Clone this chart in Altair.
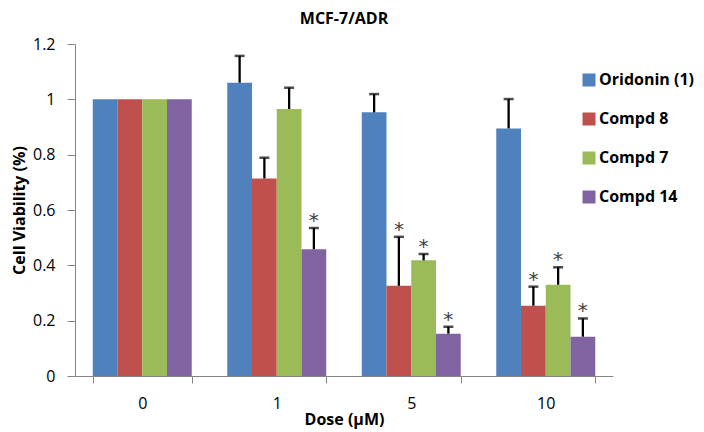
import altair as alt
import pandas as pd

# ---- data ----
doses = ["0", "1", "5", "10"]
series = ["Oridonin (1)", "Compd 8", "Compd 7", "Compd 14"]
colors = ["#4F81BD", "#C0504D", "#9BBB59", "#8064A2"]

oridonin = [1.0, 1.06, 0.953, 0.895]
compd8 = [1.0, 0.714, 0.326, 0.254]
compd7 = [1.0, 0.965, 0.418, 0.330]
compd14 = [1.0, 0.458, 0.153, 0.142]

oridonin_err_top = [None, 1.157, 1.019, 1.001]
compd8_err_top = [None, 0.789, 0.503, 0.323]
compd7_err_top = [None, 1.042, 0.441, 0.393]
compd14_err_top = [None, 0.535, 0.178, 0.208]

oridonin_star = [False, False, False, False]
compd8_star = [False, False, True, True]
compd7_star = [False, False, True, True]
compd14_star = [False, True, True, True]

y_ticks = [0, 0.2, 0.4, 0.6, 0.8, 1.0, 1.2]

vals = [oridonin, compd8, compd7, compd14]
tops = [oridonin_err_top, compd8_err_top, compd7_err_top, compd14_err_top]
stars = [oridonin_star, compd8_star, compd7_star, compd14_star]

rows = []
for s, v, t, st in zip(series, vals, tops, stars):
    for d, vv, tt, ss in zip(doses, v, t, st):
        rows.append({"dose": d, "series": s, "value": vv, "upper": tt,
                     "star": "*" if ss else ""})
df = pd.DataFrame(rows)

FONT = "Open Sans"

x_enc = alt.X("dose:N", sort=doses,
              scale=alt.Scale(paddingInner=0.264, paddingOuter=0.132),
              axis=alt.Axis(title="Dose (μM)", labelAngle=0, tickBand="extent",
                            tickSize=7, labelPadding=12, titlePadding=0,
                            labelFontSize=16, titleFontSize=16,
                            titleFontWeight="bold", domainColor="#868686",
                            tickColor="#868686", labelColor="black",
                            titleColor="black", labelFont=FONT, titleFont=FONT))
xo_enc = alt.XOffset("series:N", sort=series,
                     scale=alt.Scale(paddingInner=0, paddingOuter=0))
y_scale = alt.Scale(domain=[0, 1.2], nice=False)

base = alt.Chart(df)

bars = base.mark_bar(stroke=None).encode(
    x=x_enc,
    xOffset=xo_enc,
    y=alt.Y("value:Q", scale=y_scale,
            axis=alt.Axis(title="Cell Viability (%)", values=y_ticks, format="~g",
                          grid=False, tickSize=8, labelPadding=12,
                          labelFontSize=16, titleFontSize=16,
                          titleFontWeight="bold", domainColor="#868686",
                          tickColor="#868686", labelColor="black",
                          titleColor="black", labelFont=FONT, titleFont=FONT,
                          titlePadding=5)),
    color=alt.Color("series:N", sort=series,
                    scale=alt.Scale(domain=series, range=colors),
                    legend=alt.Legend(title=None, orient="none", legendX=506,
                                      legendY=28, symbolType="square",
                                      symbolSize=169, symbolStrokeWidth=0,
                                      labelFontSize=16, labelFontWeight="bold",
                                      labelFont=FONT, labelColor="black",
                                      rowPadding=23, labelOffset=2)),
)

err = base.transform_filter("isValid(datum.upper)")

rules = err.mark_rule(color="black", strokeWidth=2.3).encode(
    x=alt.X("dose:N", sort=doses),
    xOffset=alt.XOffset("series:N", sort=series),
    y=alt.Y("value:Q", scale=y_scale),
    y2="upper:Q",
)

caps = err.mark_tick(color="black", thickness=2.5, size=10, orient="horizontal").encode(
    x=alt.X("dose:N", sort=doses),
    xOffset=alt.XOffset("series:N", sort=series),
    y=alt.Y("upper:Q", scale=y_scale),
)

star_text = err.transform_filter("datum.star != ''").mark_text(
    fontSize=20, color="#404040", baseline="alphabetic", dy=-1, font="DejaVu Sans"
).encode(
    x=alt.X("dose:N", sort=doses),
    xOffset=alt.XOffset("series:N", sort=series),
    y=alt.Y("upper:Q", scale=y_scale),
    text="star:N",
)

chart = alt.layer(bars, rules, caps, star_text).properties(
    width=538,
    height=332,
    title=alt.TitleParams("MCF-7/ADR", fontSize=16, fontWeight="bold", font=FONT,
                          anchor="middle", offset=9, color="black"),
    autosize=alt.AutoSizeParams(type="none"),
    padding={"left": 67, "top": 36, "right": 83, "bottom": 56},
).configure_view(stroke=None)

chart.save("out.html", embed_options={"renderer": "svg", "actions": False})
